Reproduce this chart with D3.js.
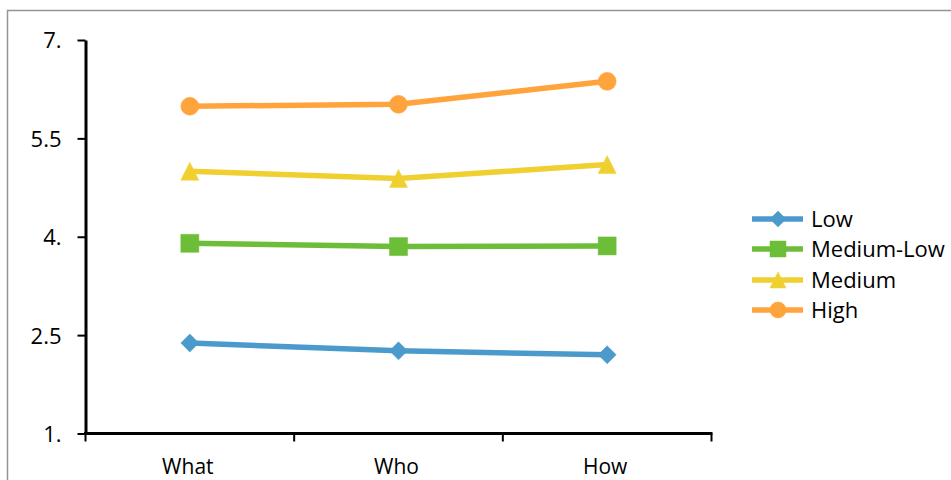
<!DOCTYPE html>
<html>
<head>
<meta charset="utf-8">
<script src="https://cdn.jsdelivr.net/npm/d3@7"></script>
<style>
  html, body { margin: 0; padding: 0; background: #fff; }
  svg { display: block; }
  text { font-family: "Open Sans", "Liberation Sans", sans-serif; fill: #000; }
</style>
</head>
<body>
<svg id="chart" width="951" height="480"></svg>
<script>
// Categories along the x axis
const categories = ["What", "Who", "How"];

// Series names and their values per category
const seriesNames = ["Low", "Medium-Low", "Medium", "High"];
const lowValues = [2.38, 2.26, 2.2];
const mediumLowValues = [3.9, 3.85, 3.86];
const mediumValues = [5.0, 4.89, 5.1];
const highValues = [5.99, 6.02, 6.37];

// Y axis ticks and their printed labels
const yTickValues = [1, 2.5, 4, 5.5, 7];
const yTickLabels = ["1.", "2.5", "4.", "5.5", "7."];

const seriesColors = ["#4A9BCB", "#6CBE38", "#F0D030", "#FFA43C"];
const seriesShapes = ["diamond", "square", "triangle", "circle"];
const seriesValues = [lowValues, mediumLowValues, mediumValues, highValues];

const series = seriesNames.map((name, i) => ({
  name,
  color: seriesColors[i],
  shape: seriesShapes[i],
  points: categories.map((c, j) => ({ cat: c, value: seriesValues[i][j] }))
}));

const svg = d3.select("#chart");

// Outer chart frame
svg.append("path")
  .attr("d", "M7.5,480 L7.5,10.5 L951,10.5")
  .attr("fill", "none")
  .attr("stroke", "#959595")
  .attr("stroke-width", 1.5);

const x = d3.scaleBand().domain(categories).range([85.5, 711.5]).paddingInner(0).paddingOuter(0);
const y = d3.scaleLinear().domain([1, 7]).range([433.5, 40]);
const cx = c => x(c) + x.bandwidth() / 2;

// Y axis
const yAxis = svg.append("g")
  .attr("transform", "translate(85.5,0)")
  .call(d3.axisLeft(y)
    .tickValues(yTickValues)
    .tickFormat((d, i) => yTickLabels[i])
    .tickSizeInner(8)
    .tickSizeOuter(0)
    .tickPadding(16));
yAxis.select(".domain").attr("stroke", "#000").attr("stroke-width", 3);
yAxis.selectAll(".tick line").attr("stroke", "#000").attr("stroke-width", 2);
yAxis.selectAll(".tick text")
  .attr("font-size", 22)
  .attr("font-family", "'Open Sans', sans-serif")
  .attr("fill", "#000")
  .attr("dy", "0.36em");

// X axis: baseline with ticks on category boundaries
const xBoundaries = categories.map(c => x(c)).concat([x.range()[1]]);
const xAxis = svg.append("g");
xAxis.append("line")
  .attr("x1", x.range()[0] - 1.5).attr("x2", x.range()[1] + 1)
  .attr("y1", y(1)).attr("y2", y(1))
  .attr("stroke", "#000").attr("stroke-width", 3);
xAxis.selectAll("line.tick")
  .data(xBoundaries)
  .join("line")
  .attr("class", "tick")
  .attr("x1", d => d).attr("x2", d => d)
  .attr("y1", y(1)).attr("y2", y(1) + 8)
  .attr("stroke", "#000").attr("stroke-width", 2);
xAxis.selectAll("text")
  .data(categories)
  .join("text")
  .attr("x", d => cx(d) - 2)
  .attr("y", 474)
  .attr("text-anchor", "middle")
  .attr("font-size", 21)
  .text(d => d);

// Marker path generator, centred on the bounding box
function markerPath(shape, s) {
  const h = s / 2;
  switch (shape) {
    case "diamond": return `M0,${-h}L${h},0L0,${h}L${-h},0Z`;
    case "square": return `M${-h},${-h}H${h}V${h}H${-h}Z`;
    case "triangle": return `M0,${-h}L${h},${h}L${-h},${h}Z`;
    default: return d3.symbol(d3.symbolCircle, Math.PI * h * h)();
  }
}

const line = d3.line().x(d => cx(d.cat)).y(d => y(d.value));

const plot = svg.append("g");
series.forEach(s => {
  plot.append("path")
    .datum(s.points)
    .attr("d", line)
    .attr("fill", "none")
    .attr("stroke", s.color)
    .attr("stroke-width", 5.5)
    .attr("stroke-linejoin", "round");
  plot.selectAll(null)
    .data(s.points)
    .join("path")
    .attr("transform", d => `translate(${cx(d.cat)},${y(d.value)})`)
    .attr("d", markerPath(s.shape, 18))
    .attr("fill", s.color)
    .attr("stroke", s.color)
    .attr("stroke-width", 0.5)
    .attr("stroke-linejoin", "round");
});

// Legend
const legendRowY = [219, 249, 280, 310];
const legend = svg.append("g");
series.forEach((s, i) => {
  const g = legend.append("g").attr("transform", `translate(0,${legendRowY[i]})`);
  g.append("line")
    .attr("x1", 752).attr("x2", 803)
    .attr("y1", 0).attr("y2", 0)
    .attr("stroke", s.color).attr("stroke-width", 5.5);
  g.append("path")
    .attr("transform", "translate(778,0)")
    .attr("d", markerPath(s.shape, 16))
    .attr("fill", s.color)
    .attr("stroke", s.color)
    .attr("stroke-width", 0.5);
  g.append("text")
    .attr("x", 811)
    .attr("y", 0)
    .attr("dy", "0.36em")
    .attr("font-size", 22)
    .text(s.name);
});
</script>
</body>
</html>
